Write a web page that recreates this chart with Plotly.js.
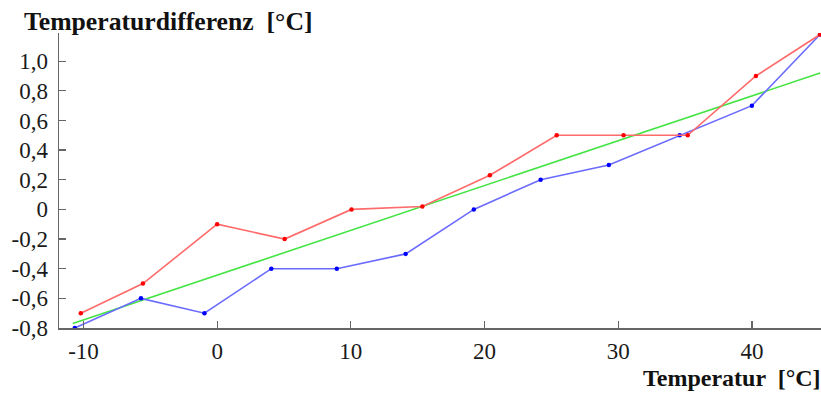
<!DOCTYPE html>
<html><head><meta charset="utf-8">
<script src="https://cdn.plot.ly/plotly-3.0.1.min.js"></script>
<style>html,body{margin:0;padding:0;background:#fff}#chart{width:821px;height:394px}</style>
</head><body><div id="chart"></div>
<script>
const redX = [-10.2, -5.55, 0.0, 5.05, 10.05, 15.35, 20.4, 25.4, 30.4, 35.2, 40.3, 45.1];
const redY = [-0.70, -0.50, -0.10, -0.20, 0.00, 0.02, 0.23, 0.50, 0.50, 0.50, 0.90, 1.18];
const blueX = [-10.65, -5.7, -0.95, 4.05, 8.95, 14.1, 19.2, 24.2, 29.3, 34.6, 40.0, 45.1];
const blueY = [-0.80, -0.60, -0.70, -0.40, -0.40, -0.30, 0.00, 0.20, 0.30, 0.50, 0.70, 1.18];
const fitX = [-10.8, 45.1];
const fitY = [-0.77, 0.92];
const xTickVals = [-10, 0, 10, 20, 30, 40];
const xTickText = ['-10', '0', '10', '20', '30', '40'];
const yTickVals = [-0.8, -0.6, -0.4, -0.2, 0, 0.2, 0.4, 0.6, 0.8, 1.0];
const yTickText = ['-0,8', '-0,6', '-0,4', '-0,2', '0', '0,2', '0,4', '0,6', '0,8', '1,0'];
const yTitle = 'Temperaturdifferenz  [°C]';
const xTitle = 'Temperatur  [°C]';

const font = '"Liberation Serif", "Times New Roman", serif';
const traces = [
  {x: fitX, y: fitY, mode: 'lines', line: {color: '#44e444', width: 1.6}, hoverinfo: 'skip'},
  {x: blueX, y: blueY, mode: 'lines+markers', line: {color: '#6a6aff', width: 1.6}, marker: {color: '#0000ff', size: 4.5}},
  {x: redX, y: redY, mode: 'lines+markers', line: {color: '#ff6a6a', width: 1.6}, marker: {color: '#ff0000', size: 4.5}}
];
const axisCommon = {
  showgrid: false, zeroline: false, showline: true, linecolor: '#666', linewidth: 1.5,
  ticks: 'inside', ticklen: 7, tickwidth: 1.3, tickcolor: '#666',
  tickfont: {family: font, size: 23, color: '#1a1a1a'}
};
const layout = {
  width: 821, height: 394,
  margin: {l: 59, r: 0, t: 33, b: 66},
  showlegend: false,
  font: {family: font},
  paper_bgcolor: '#fff', plot_bgcolor: '#fff',
  xaxis: Object.assign({}, axisCommon, {range: [-11.83, 45.17], tickvals: xTickVals, ticktext: xTickText, ticklabelstandoff: 2}),
  yaxis: Object.assign({}, axisCommon, {range: [-0.8, 1.19], tickvals: yTickVals, ticktext: yTickText, ticklabelstandoff: 5}),
  annotations: [
    {text: '<b>' + yTitle + '</b>', xref: 'paper', yref: 'paper', x: -0.049, y: 1.04, xanchor: 'left', yanchor: 'middle', showarrow: false, font: {family: font, size: 25.7, color: '#111'}},
    {text: '<b>' + xTitle + '</b>', xref: 'paper', yref: 'paper', x: 1.003, y: -0.169, xanchor: 'right', yanchor: 'middle', showarrow: false, font: {family: font, size: 24, color: '#111'}}
  ]
};
Plotly.newPlot('chart', traces, layout, {staticPlot: true, displayModeBar: false});
</script>
</body></html>
